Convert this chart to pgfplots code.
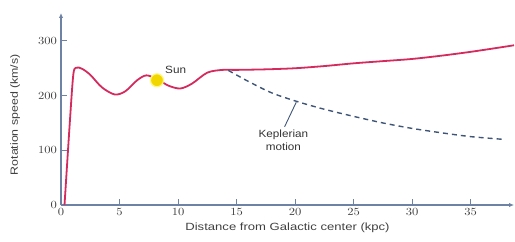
\documentclass[border=0pt]{standalone}
\usepackage{pgfplots}
\pgfplotsset{compat=1.18}
\usetikzlibrary{arrows.meta}
\usepackage{fontspec}
\setmainfont{Liberation Sans}
\definecolor{axc}{HTML}{6E82A6}
\definecolor{curve}{HTML}{D42A5E}
\definecolor{kep}{HTML}{3E5578}
\definecolor{sun}{HTML}{F2D600}
\newcommand{\lf}{\fontsize{10.5}{12}\selectfont}
\begin{document}
\begin{tikzpicture}
\begin{axis}[
  at={(0,0)}, anchor=south west,
  scale only axis, width=453bp, height=192bp,
  xmin=0, xmax=38.7, ymin=0, ymax=351,
  axis lines=left,
  axis line style={axc, line width=1.1pt, -{Latex[length=5bp,width=4.5bp]}},
  xtick={0,5,10,15,20,25,30,35}, ytick={0,100,200,300},
  tick style={axc, line width=1.1pt},
  major tick length=6bp,
  tick align=inside,
  ticklabel style={font=\fontsize{11}{12}\selectfont, text=black!75, xscale=1.15},
  xlabel={\scalebox{1.25}[1]{Distance from Galactic center (kpc)}},
  ylabel={\scalebox{1.18}[1]{Rotation speed (km/s)}},
  xlabel style={font=\lf, text=black!75, at={(axis description cs:0.5,0)}, anchor=center, yshift=-23bp},
  ylabel style={font=\lf, text=black!75, at={(axis description cs:-0.101,0.47)}, anchor=center},
  clip=false,
]
\addplot[curve, line width=1.8pt, smooth, tension=0.5] coordinates {
(0.3,0) (0.75,150) (1.05,238) (1.3,251) (1.8,249) (2.5,238) (3.5,215) (4.6,202) (5.5,208) (6.5,228) (7.3,237) (8.2,230) (9.2,218) (10.2,213) (11.2,222) (12.5,242) (13.8,247) (15,247) (17.5,248) (20,250) (22.5,254) (25,259) (27.5,263) (30,267) (32.5,273) (35,280) (37.5,288) (38.7,292)
};
\addplot[kep, line width=1.4pt, smooth, dash pattern=on 5bp off 4bp] coordinates {
(14.3,246) (16,226) (18,205) (20.2,189) (22.5,175) (25,162) (27.5,150) (30,140) (32.5,132) (35,125) (37.8,120)
};
\addplot[kep, line width=0.9pt] coordinates {(20.1,188) (19.1,143)};
\addplot[only marks, mark=*, mark size=6.5bp, mark options={fill=sun, draw=yellow!50!white, line width=1.2pt}] coordinates {(8.2,228)};
\node[anchor=west, font=\lf, text=black!80] at (axis cs:8.6,247) {\scalebox{1.12}[1]{Sun}};
\node[align=center, font=\fontsize{10.5}{13}\selectfont, text=black!80] at (axis cs:19,119) {\scalebox{1.12}[1]{Keplerian}\\\scalebox{1.12}[1]{motion}};
\end{axis}
\path[use as bounding box] (-61bp,-37bp) rectangle (454bp,205bp);
\end{tikzpicture}
\end{document}
